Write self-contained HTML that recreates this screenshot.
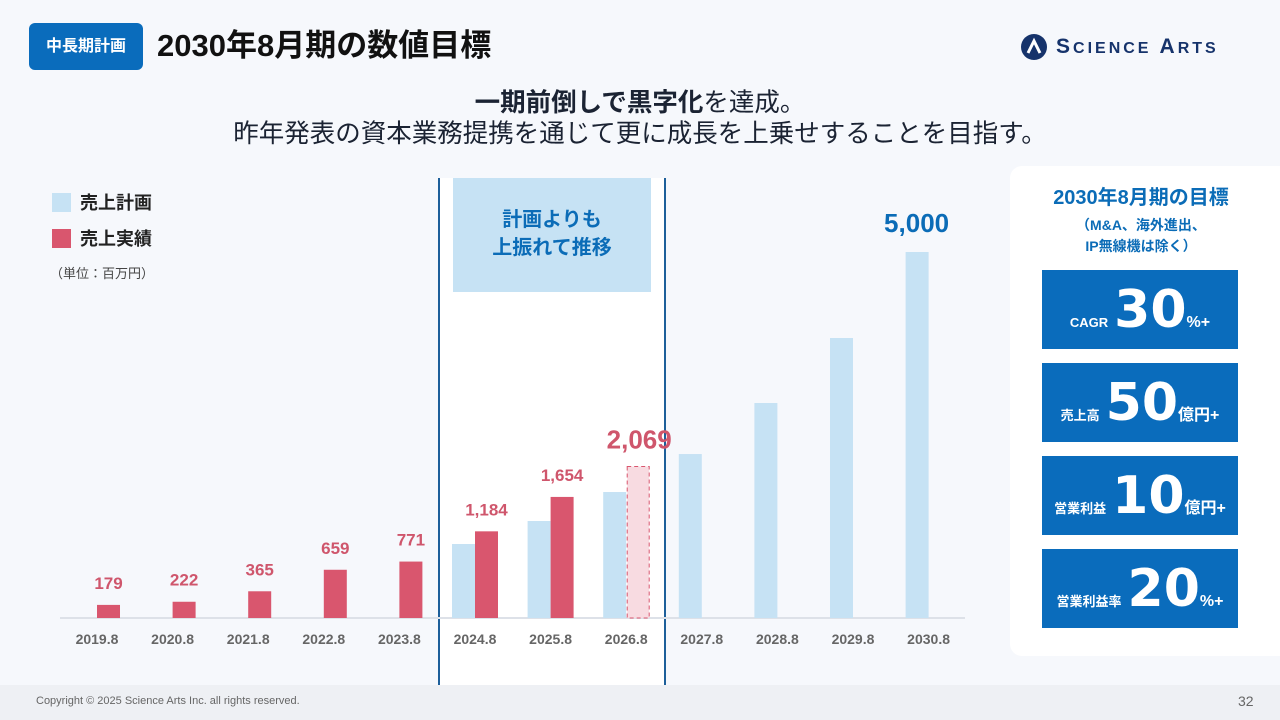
<!DOCTYPE html>
<html lang="ja"><head><meta charset="utf-8">
<style>
*{margin:0;padding:0;box-sizing:border-box}
body{width:1280px;height:720px;overflow:hidden;background:#f6f8fc;font-family:"Liberation Sans","Noto Sans CJK JP",sans-serif;position:relative}
.abs{position:absolute}
</style></head><body>
<div class="abs" style="left:29px;top:23px;width:114px;height:47px;background:#0a6cbc;border-radius:6px;color:#fff;font-weight:700;font-size:16px;line-height:47px;text-align:center">中長期計画</div>
<div class="abs" style="left:157px;top:26px;font-size:31px;font-weight:700;color:#111;line-height:40px;white-space:nowrap">2030年8月期の数値目標</div>
<div class="abs" style="left:1020px;top:33px;height:28px;display:flex;align-items:center">
<svg width="28" height="28" viewBox="0 0 28 28"><circle cx="14" cy="14" r="13" fill="#16336b"/><path d="M8 20 L14 8 L20 20" stroke="#fff" stroke-width="3" fill="none"/></svg>
<span style="margin-left:8px;font-size:21px;font-weight:700;letter-spacing:3px;color:#16336b;white-space:nowrap">S<span style="font-size:16px">CIENCE</span> A<span style="font-size:16px">RTS</span></span></div>
<div class="abs" style="left:0;width:1280px;top:88px;text-align:center;font-size:25.5px;color:#1b2333;line-height:31px;white-space:nowrap">
<div><b>一期前倒しで黒字化</b>を達成。</div><div>昨年発表の資本業務提携を通じて更に成長を上乗せすることを目指す。</div></div>

<svg class="abs" style="left:0;top:0" width="1010" height="720">
<rect x="439" y="178" width="226" height="510" fill="#fff"/>
<line x1="439" y1="178" x2="439" y2="688" stroke="#1d5f9a" stroke-width="2"/>
<line x1="665" y1="178" x2="665" y2="688" stroke="#1d5f9a" stroke-width="2"/>
<rect x="453" y="178" width="198" height="114" fill="#c6e2f4"/>
<text x="552" y="226" text-anchor="middle" font-size="20" font-weight="700" fill="#0b6cb7">計画よりも</text>
<text x="552" y="254" text-anchor="middle" font-size="20" font-weight="700" fill="#0b6cb7">上振れて推移</text>
<rect x="52" y="193" width="19" height="19" fill="#c6e2f4"/>
<text x="80" y="209" font-size="18" font-weight="700" fill="#222">売上計画</text>
<rect x="52" y="229" width="19" height="19" fill="#d9566e"/>
<text x="80" y="245" font-size="18" font-weight="700" fill="#222">売上実績</text>
<text x="50" y="278" font-size="13" fill="#444">（単位：百万円）</text>
<line x1="60" y1="618" x2="965" y2="618" stroke="#dde1e8" stroke-width="2"/>
<g id="marks"></g>
</svg>

<div class="abs" style="left:1010px;top:166px;width:290px;height:490px;background:#fff;border-radius:12px"></div>
<div class="abs" style="left:1010px;width:262px;top:184px;text-align:center;color:#0b6cb7;font-weight:700;font-size:20px;line-height:28px">2030年8月期の目標</div>
<div class="abs" style="left:1010px;width:262px;top:215px;text-align:center;color:#0b6cb7;font-weight:700;font-size:14px;line-height:21px">（M&amp;A、海外進出、<br>IP無線機は除く）</div>
<div id="boxes"></div>

<div class="abs" style="left:0;top:685px;width:1280px;height:35px;background:#eef0f4"></div>
<div class="abs" style="left:36px;top:695px;font-size:11px;color:#666">Copyright © 2025 Science Arts Inc. all rights reserved.</div>
<div class="abs" style="left:1238px;top:693px;font-size:14px;color:#666">32</div>

<script>
const categories=["2019.8","2020.8","2021.8","2022.8","2023.8","2024.8","2025.8","2026.8","2027.8","2028.8","2029.8","2030.8"];
const planValues=[null,null,null,null,null,1011,1325,1721,2240,2937,3825,5000];
const actualValues=[179,222,365,659,771,1184,1654,null,null,null,null,null];
const forecastValues=[null,null,null,null,null,null,null,2069,null,null,null,null];
const actualLabels=["179","222","365","659","771","1,184","1,654"];
const NS="http://www.w3.org/2000/svg";
const g=document.getElementById('marks');
const x0=97,step=75.6,bw=23,base=618,k=366/5000;
const xS=i=>x0+i*step, yS=v=>base-v*k;
function mk(t,a){const e=document.createElementNS(NS,t);for(const p in a)e.setAttribute(p,a[p]);g.appendChild(e);return e;}
categories.forEach((c,i)=>{
  const cx=xS(i);
  if(planValues[i]!=null){const r=mk('rect',{x:cx-bw,y:yS(planValues[i]),width:bw,height:planValues[i]*k,fill:'#c6e2f4'});
    
    }
  if(actualValues[i]!=null){const r=mk('rect',{x:cx,y:yS(actualValues[i]),width:bw,height:actualValues[i]*k,fill:'#d9566e'});
    
    
    const t=mk('text',{x:cx+bw/2,y:yS(actualValues[i])-16,'text-anchor':'middle','font-size':17,'font-weight':700,fill:'#cf566c'});
    t.textContent=actualLabels[i];
    
    }
  if(forecastValues[i]!=null){const r=mk('rect',{x:cx+1,y:yS(forecastValues[i]),width:bw-1,height:forecastValues[i]*k,fill:'#f8dbe1',stroke:'#d9566e','stroke-dasharray':'4 3','stroke-width':1});
    
    
    const t=mk('text',{x:cx+13,y:yS(forecastValues[i])-18,'text-anchor':'middle','font-size':26,'font-weight':700,fill:'#cf566c'});
    t.textContent=forecastValues[i].toLocaleString('en-US');
    
    }
  const l=mk('text',{x:cx,y:644,'text-anchor':'middle','font-size':14,'font-weight':700,fill:'#666'});
  l.textContent=c;
  
  
});
const last=categories.length-1;
const tv=mk('text',{x:xS(last)-12,y:yS(planValues[last])-20,'text-anchor':'middle','font-size':26,'font-weight':700,fill:'#0b6cb7'});
tv.textContent=planValues[last].toLocaleString('en-US');



const boxLabels=["CAGR","売上高","営業利益","営業利益率"];
const boxNums=["30","50","10","20"];
const boxUnits=["%+","億円+","億円+","%+"];
const bc=document.getElementById('boxes');
boxLabels.forEach((lab,i)=>{
  const d=document.createElement('div');
  d.className='abs';
  d.style.cssText=`left:1042px;top:${270+i*93}px;width:196px;height:79px;background:#0a6cbc;color:#fff;display:flex;align-items:baseline;justify-content:center;padding-top:14px;font-weight:700`;
  d.innerHTML=`<span style="font-size:13px;margin-right:6px">${lab}</span><span style="font-size:52px;line-height:52px;font-family:'DejaVu Sans',sans-serif">${boxNums[i]}</span><span style="font-size:16px">${boxUnits[i]}</span>`;
  
  
  bc.appendChild(d);
});
</script>
</body></html>
